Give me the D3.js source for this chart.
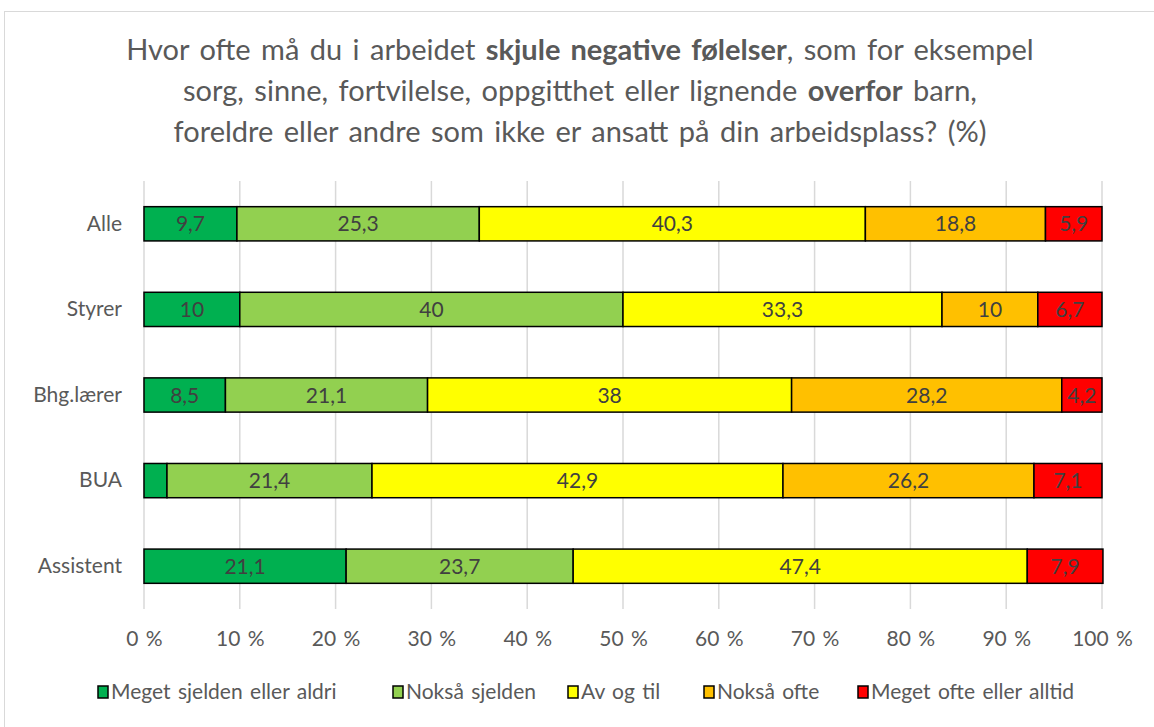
<!DOCTYPE html>
<html>
<head>
<meta charset="utf-8">
<script src="https://cdn.jsdelivr.net/npm/d3@7"></script>
<style>
  body { margin: 0; background: #fff; }
  text { font-family: Lato, "Open Sans", sans-serif; fill: #595959; }
</style>
</head>
<body>
<div id="chart"></div>
<script>
// data
var categories = ["Alle", "Styrer", "Bhg.lærer", "BUA", "Assistent"];
var seriesNames = ["Meget sjelden eller aldri", "Nokså sjelden", "Av og til", "Nokså ofte", "Meget ofte eller alltid"];
var meget_sjelden = [9.7, 10, 8.5, 2.4, 21.1];
var noksa_sjelden = [25.3, 40, 21.1, 21.4, 23.7];
var av_og_til = [40.3, 33.3, 38, 42.9, 47.4];
var noksa_ofte = [18.8, 10, 28.2, 26.2, 0];
var meget_ofte = [5.9, 6.7, 4.2, 7.1, 7.9];
var xTicks = [0, 10, 20, 30, 40, 50, 60, 70, 80, 90, 100];
var colors = ["#00b050", "#92d050", "#ffff00", "#ffc000", "#ff0000"];

var svgWidth = 1154;
var svgHeight = 727;
var margin = { top: 181, right: 52, bottom: 118, left: 144 };
var width = svgWidth - margin.left - margin.right;
var height = svgHeight - margin.top - margin.bottom;

var svg = d3.select("#chart").append("svg")
  .attr("width", svgWidth)
  .attr("height", svgHeight);

// outer frame
svg.append("rect")
  .attr("x", 4.5).attr("y", 11.5)
  .attr("width", 1160).attr("height", 800)
  .attr("fill", "none")
  .attr("stroke", "#d9d9d9");

// title
var titleLines = [
  [["Hvor ofte må du i arbeidet ", false], ["skjule negative følelser", true], [", som for eksempel", false]],
  [["sorg, sinne, fortvilelse, oppgitthet eller lignende ", false], ["overfor", true], [" barn,", false]],
  [["foreldre eller andre som ikke er ansatt på din arbeidsplass? (%)", false]]
];
titleLines.forEach(function(parts, i) {
  var t = svg.append("text")
    .attr("x", 580)
    .attr("y", 60 + i * 41)
    .attr("text-anchor", "middle")
    .style("font-size", "29px")
    .style("word-spacing", "3px");
  parts.forEach(function(p) {
    t.append("tspan").text(p[0]).style("font-weight", p[1] ? "bold" : "normal");
  });
});

var chartGroup = svg.append("g")
  .attr("transform", `translate(${margin.left}, ${margin.top})`);

var x = d3.scaleLinear().domain([0, 100]).range([0, width]);
var y = d3.scaleBand().domain(categories).range([0, height]).paddingInner(0.6).paddingOuter(0.3);

// gridlines
chartGroup.selectAll(".grid")
  .data(xTicks)
  .enter()
  .append("line")
  .attr("x1", d => x(d)).attr("x2", d => x(d))
  .attr("y1", 0).attr("y2", height)
  .attr("stroke", "#d9d9d9")
  .attr("stroke-width", 1.5);

// x axis labels
var bottomAxis = d3.axisBottom(x).tickValues(xTicks).tickFormat(d => d + " %").tickSize(0).tickPadding(22);
var xAxis = chartGroup.append("g")
  .attr("transform", `translate(0, ${height})`)
  .call(bottomAxis);
xAxis.select(".domain").remove();
xAxis.selectAll("text").style("font-size", "21px").style("word-spacing", "2px").attr("fill", "#595959");

// y axis labels
var leftAxis = d3.axisLeft(y).tickSize(0).tickPadding(22);
var yAxis = chartGroup.append("g").call(leftAxis);
yAxis.select(".domain").remove();
yAxis.selectAll("text").style("font-size", "21px").attr("fill", "#595959");

// stack
var series = [meget_sjelden, noksa_sjelden, av_og_til, noksa_ofte, meget_ofte];
var rows = categories.map(function(c, i) {
  var r = { cat: c };
  seriesNames.forEach(function(s, k) { r[s] = series[k][i]; });
  return r;
});
var stacked = d3.stack().keys(seriesNames)(rows);

var layers = chartGroup.selectAll(".layer")
  .data(stacked)
  .enter()
  .append("g")
  .attr("fill", (d, i) => colors[i]);

layers.selectAll("rect")
  .data(d => d.filter(p => p[1] - p[0] > 0))
  .enter()
  .append("rect")
  .attr("x", d => x(d[0]))
  .attr("y", d => y(d.data.cat))
  .attr("width", d => x(d[1]) - x(d[0]))
  .attr("height", y.bandwidth())
  .attr("stroke", "#000")
  .attr("stroke-width", 1.5);

// data labels (the tiny BUA segment is unlabelled)
layers.selectAll("text")
  .data(d => d.filter(p => p[1] - p[0] >= 3))
  .enter()
  .append("text")
  .attr("x", d => x((d[0] + d[1]) / 2))
  .attr("y", d => y(d.data.cat) + y.bandwidth() / 2)
  .attr("dy", "0.36em")
  .attr("text-anchor", "middle")
  .style("font-size", "21px")
  .style("fill", "#404040")
  .text(d => String(Math.round((d[1] - d[0]) * 10) / 10).replace(".", ","));

// legend
var legendX = [98, 393, 568, 704, 858];
var legend = svg.append("g");
seriesNames.forEach(function(s, i) {
  legend.append("rect")
    .attr("x", legendX[i]).attr("y", 686)
    .attr("width", 10).attr("height", 12)
    .attr("fill", colors[i])
    .attr("stroke", "#000")
    .attr("stroke-width", 1.5);
  legend.append("text")
    .attr("x", legendX[i] + 13)
    .attr("y", 699)
    .style("font-size", "21px")
    .style("word-spacing", "2px")
    .text(s);
});
</script>
</body>
</html>
